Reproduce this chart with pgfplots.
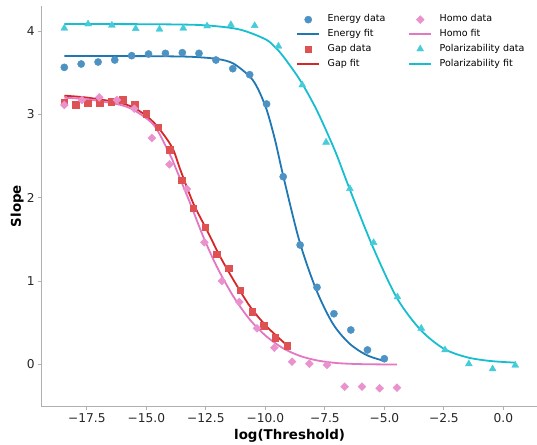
\documentclass[border=0pt]{standalone}
\usepackage{fontspec}
\setmainfont{DejaVu Sans}
\usepackage{pgfplots}
\pgfplotsset{compat=1.18}

\definecolor{tabblue}{HTML}{1F77B4}
\definecolor{tabred}{HTML}{D62728}
\definecolor{tabpink}{HTML}{E377C2}
\definecolor{tabcyan}{HTML}{17BECF}
\definecolor{spine}{HTML}{B0B0B0}

\begin{document}
\begin{tikzpicture}
\begin{axis}[
  scale only axis,
  width=496pt, height=400.8pt,
  xmin=-19.40, xmax=1.44,
  ymin=-0.507, ymax=4.304,
  axis x line*=bottom, axis y line*=left,
  axis line style={spine, line width=0.9pt},
  tick style={spine, line width=0.9pt},
  tick align=outside,
  major tick length=3.5pt,
  xtick={-17.5,-15,-12.5,-10,-7.5,-5,-2.5,0},
  xticklabels={−17.5,−15.0,−12.5,−10.0,−7.5,−5.0,−2.5,0.0},
  ytick={0,1,2,3,4},
  yticklabels={0,1,2,3,4},
  ticklabel style={font=\fontsize{12.2}{14}\selectfont, text=black!85},
  xlabel={log(Threshold)},
  ylabel={Slope},
  label style={font=\fontsize{13.4}{16}\selectfont\bfseries},
  xlabel style={at={(axis description cs:0.5,-0.0811)}, anchor=base},
  ylabel style={at={(axis description cs:-0.0494,0.5)}, anchor=center, rotate=0},
  legend image code/.code={\draw[mark repeat=2,mark phase=2] plot coordinates {(0pt,0pt) (11pt,0pt) (22pt,0pt)};},
  legend columns=2,
  legend style={at={(axis description cs:0.507,0.988)}, anchor=north west,
    draw=none, fill=none, font=\fontsize{9.5}{11}\selectfont,
    row sep=1pt,
    nodes={inner sep=2pt, text height=7.2pt, text depth=2.5pt},
    /tikz/every odd column/.style={column sep=5.6pt},
    /tikz/every even column/.style={column sep=6.6pt}},
  legend cell align=left,
  fitline/.style={line width=1.8pt, smooth, no marks},
]

% Energy
\addplot[forget plot, only marks, mark=*, mark size=3.6pt, color=tabblue!80!white] coordinates {
(-18.45,3.565) (-17.74,3.605) (-17.03,3.629) (-16.33,3.653) (-15.62,3.705)
(-14.91,3.725) (-14.20,3.733) (-13.49,3.741) (-12.79,3.733) (-12.08,3.653)
(-11.37,3.549) (-10.66,3.477) (-9.95,3.125) (-9.25,2.252) (-8.54,1.432)
(-7.83,0.924) (-7.12,0.607) (-6.41,0.412) (-5.71,0.172) (-5.00,0.067)};
\addplot[forget plot, fitline, color=tabblue] coordinates {
(-18.45,3.700) (-17.00,3.700) (-15.50,3.700) (-14.00,3.697) (-13.00,3.690)
(-12.00,3.665) (-11.34,3.610) (-10.64,3.450) (-10.30,3.300) (-9.94,3.050)
(-9.60,2.700) (-9.24,2.250) (-8.57,1.480) (-7.87,0.900) (-7.17,0.490)
(-6.47,0.250) (-5.74,0.110) (-5.00,0.040)};

% Gap
\addplot[forget plot, only marks, mark=square*, mark size=3.3pt, color=tabred!80!white] coordinates {
(-18.45,3.145) (-17.96,3.117) (-17.46,3.133) (-16.97,3.133) (-16.48,3.149)
(-15.99,3.176) (-15.49,3.113) (-15.00,3.008) (-14.51,2.845) (-14.01,2.573)
(-13.52,2.209) (-13.03,1.876) (-12.53,1.645) (-12.04,1.321) (-11.55,1.156)
(-11.06,0.888) (-10.56,0.628) (-10.07,0.463) (-9.58,0.319) (-9.08,0.220)};
\addplot[forget plot, fitline, color=tabred] coordinates {
(-18.45,3.225) (-17.44,3.200) (-16.03,3.133) (-15.34,3.050) (-14.63,2.885)
(-13.93,2.610) (-13.58,2.340) (-13.03,1.933) (-12.46,1.612) (-11.90,1.292)
(-11.34,1.012) (-10.64,0.692) (-9.94,0.452) (-9.08,0.225)};

% Homo
\addplot[forget plot, only marks, mark=square*, mark size=2.8pt, mark options={rotate=45}, color=tabpink!80!white] coordinates {
(-18.45,3.113) (-17.71,3.173) (-16.98,3.205) (-16.24,3.173) (-15.51,3.068)
(-14.77,2.717) (-14.03,2.401) (-13.30,2.104) (-12.56,1.465) (-11.83,1.000)
(-11.09,0.748) (-10.35,0.432) (-9.62,0.199) (-8.88,0.031) (-8.15,0.007)
(-7.41,-0.008) (-6.67,-0.269) (-5.94,-0.269) (-5.20,-0.288) (-4.47,-0.281)};
\addplot[forget plot, fitline, color=tabpink] coordinates {
(-18.45,3.200) (-17.44,3.180) (-16.03,3.110) (-15.34,3.020) (-14.63,2.850)
(-13.93,2.470) (-13.73,2.330) (-13.16,1.933) (-12.61,1.532) (-12.04,1.172)
(-11.34,0.812) (-10.64,0.532) (-9.94,0.331) (-9.24,0.190) (-8.54,0.100)
(-7.80,0.045) (-7.00,0.015) (-6.00,0.002) (-4.47,-0.003)};

% Polarizability
\addplot[forget plot, only marks, mark=triangle*, mark size=4pt, color=tabcyan!80!white] coordinates {
(-18.45,4.034) (-17.45,4.085) (-16.45,4.070) (-15.45,4.029) (-14.45,4.022)
(-13.45,4.034) (-12.45,4.061) (-11.45,4.077) (-10.45,4.065) (-9.45,3.818)
(-8.45,3.353) (-7.45,2.665) (-6.45,2.108) (-5.45,1.460) (-4.45,0.808)
(-3.45,0.432) (-2.45,0.172) (-1.45,0.004) (-0.45,-0.056) (0.50,-0.012)};
\addplot[forget plot, fitline, color=tabcyan] coordinates {
(-18.45,4.085) (-15.00,4.083) (-12.74,4.073) (-11.34,4.034) (-10.64,3.980)
(-9.94,3.893) (-9.60,3.810) (-9.24,3.693) (-8.54,3.410) (-7.84,3.050)
(-7.07,2.560) (-6.48,2.120) (-5.50,1.420) (-4.48,0.800) (-3.50,0.420)
(-2.52,0.190) (-1.54,0.085) (-0.56,0.040) (0.49,0.020)};

% legend, filled row by row
\addlegendimage{only marks, mark=*, mark size=3.6pt, color=tabblue!80!white}
\addlegendentry{\makebox[72pt][l]{Energy data}}
\addlegendimage{only marks, mark=square*, mark size=2.8pt, mark options={rotate=45}, color=tabpink!80!white}
\addlegendentry{Homo data}
\addlegendimage{line width=1.8pt, color=tabblue}
\addlegendentry{\makebox[72pt][l]{Energy fit}}
\addlegendimage{line width=1.8pt, color=tabpink}
\addlegendentry{Homo fit}
\addlegendimage{only marks, mark=square*, mark size=3.3pt, color=tabred!80!white}
\addlegendentry{\makebox[72pt][l]{Gap data}}
\addlegendimage{only marks, mark=triangle*, mark size=4pt, color=tabcyan!80!white}
\addlegendentry{Polarizability data}
\addlegendimage{line width=1.8pt, color=tabred}
\addlegendentry{\makebox[72pt][l]{Gap fit}}
\addlegendimage{line width=1.8pt, color=tabcyan}
\addlegendentry{Polarizability fit}
\end{axis}
\pgfresetboundingbox
\path[use as bounding box] ([xshift=-41.7pt,yshift=-37.5pt]current axis.south west) rectangle ([xshift=-0.6pt,yshift=5.8pt]current axis.north east);
\end{tikzpicture}
\end{document}
